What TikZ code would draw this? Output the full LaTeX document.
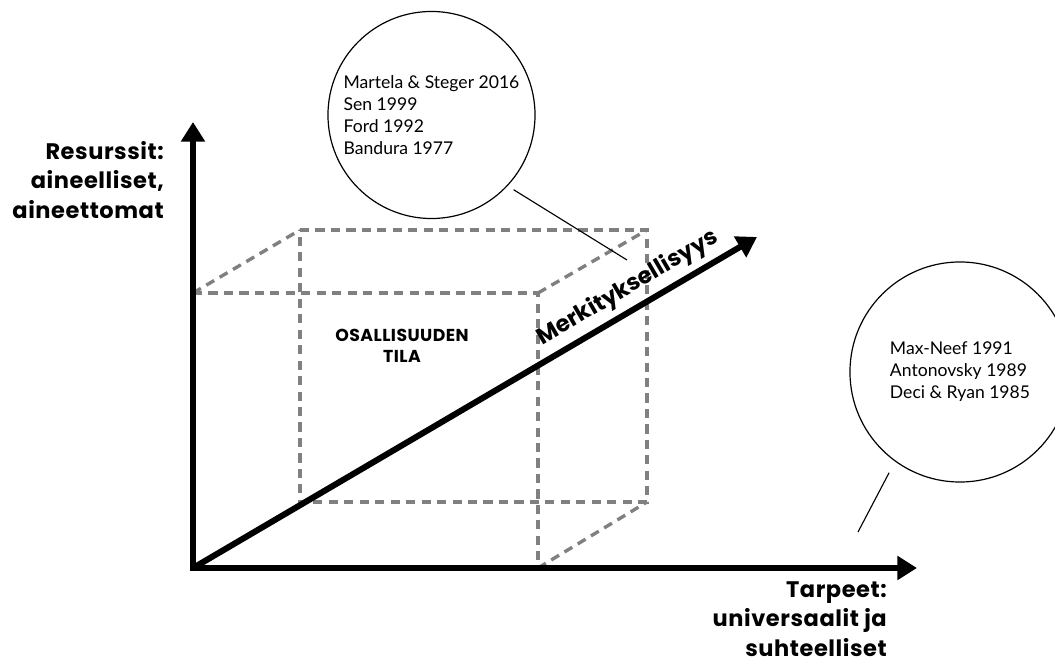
\documentclass[tikz,border=0pt]{standalone}
\usepackage{fontspec}
\setmainfont{Poppins}
\newfontfamily\citefont{Lato}
\newfontfamily\widefont{Poppins}[BoldFont={* Bold}, LetterSpace=2.5]
\usetikzlibrary{positioning,arrows.meta}

\tikzset{
  axis/.style={line width=4.3pt, -{Triangle[length=14pt,width=16.5pt]}},
  cubeEdge/.style={draw=gray, line width=2.4pt, dash pattern=on 6.5pt off 4.5pt},
  refCircle/.style={circle, draw, line width=0.85pt, align=left, inner sep=0pt,
    font=\citefont\fontsize{12.5}{15.6}\selectfont},
  axisLabel/.style={align=right, inner sep=0pt, font=\widefont\bfseries\fontsize{16}{21}\selectfont},
  leader/.style={line width=0.8pt}
}

\begin{document}
\begin{tikzpicture}[x=0.025cm, y=-0.025cm]
        \useasboundingbox (0,0) rectangle (1055,668);

        % cube
        \coordinate (fTL) at (193,293);
        \coordinate (fTR) at (538,293);
        \coordinate (fBR) at (538,568);
        \coordinate (fBL) at (193,568);
        \coordinate (bTL) at (300,230);
        \coordinate (bTR) at (647,230);
        \coordinate (bBR) at (647,502);
        \coordinate (bBL) at (300,502);
        \draw[cubeEdge] (fTL) -- (fTR) -- (fBR);
        \draw[cubeEdge] (bTL) -- (bTR) -- (bBR) -- (bBL) -- cycle;
        \draw[cubeEdge] (fTL) -- (bTL);
        \draw[cubeEdge] (fTR) -- (bTR);
        \draw[cubeEdge] (fBR) -- (bBR);

        \node[font=\widefont\bfseries\fontsize{12.3}{15}\selectfont, align=center] (tila) at (402,346) {OSALLISUUDEN\\TILA};

        % axes
        \coordinate (origin) at (193,568);
        \coordinate (yTip) at (193,122);
        \coordinate (xTip) at (917,568);
        \coordinate (zTip) at (757,237);
        \draw[axis, {Triangle[length=14pt,width=16.5pt]}-{Triangle[length=14pt,width=16.5pt]}] (yTip) -- (origin) -- (xTip);
        \draw[axis] (origin) -- (zTip)
          node[pos=0.79, sloped, above=1pt, font=\bfseries\fontsize{16.3}{20}\selectfont] (merkLabel) {Merkityksellisyys};

        \node[axisLabel, anchor=north east] (resLabel) at (164,141) {Resurssit:\\aineelliset,\\aineettomat};
        \node[axisLabel, anchor=north east] (tarLabel) at (887,581) {Tarpeet:\\universaalit ja\\suhteelliset};

        % references
        \node[refCircle, minimum size=5.175cm] (citeRes) at (431.5,115) {Martela \& Steger 2016\\Sen 1999\\Ford 1992\\Bandura 1977};
        \node[refCircle, minimum size=5.5cm] (citeTar) at (960,372) {Max-Neef 1991\\Antonovsky 1989\\Deci \& Ryan 1985};

        \coordinate (leadRes) at (627,260);
        \coordinate (leadTar) at (858,532);
        \draw[leader, shorten <=5pt] (citeRes.-43) -- (leadRes);
        \draw[leader, shorten <=9pt] (citeTar.-126) -- (leadTar);
      \end{tikzpicture}
\end{document}
